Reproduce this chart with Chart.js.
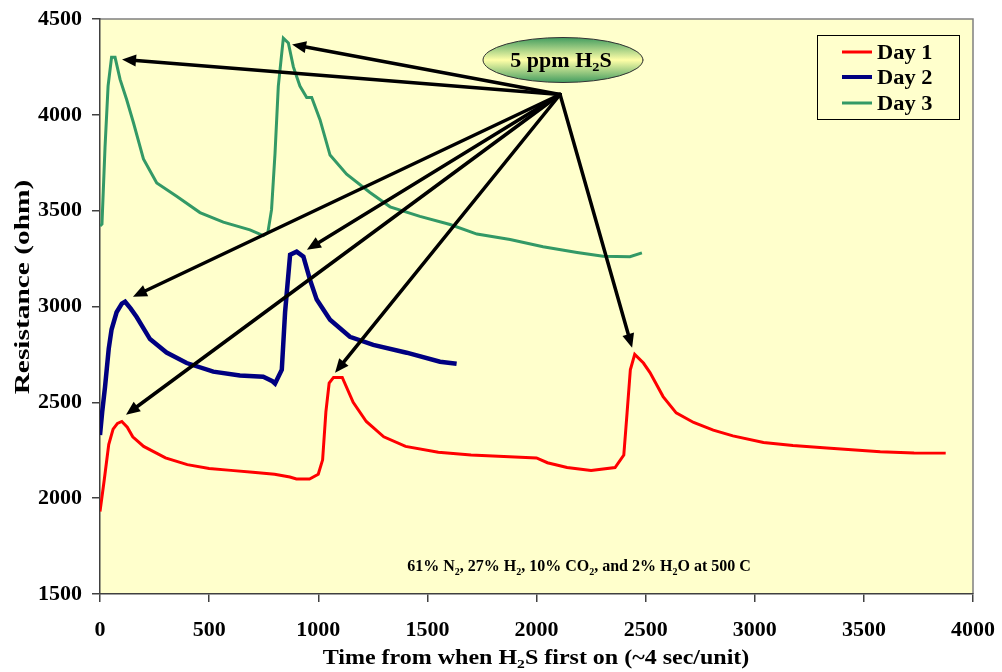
<!DOCTYPE html>
<html>
<head>
<meta charset="utf-8">
<script src="https://cdn.jsdelivr.net/npm/chart.js@4.4.1/dist/chart.umd.min.js"></script>
<style>
  body { margin: 0; background: #fff; }
  canvas { display: block; }
</style>
</head>
<body>
<canvas id="myChart" width="1002" height="672"></canvas>
<script>
// data
const day1Time = [0, 20, 40, 60, 80, 100, 125, 150, 200, 250, 300, 400, 500, 600, 700, 800, 870, 900, 960, 1000, 1020, 1035, 1050, 1070, 1110, 1160, 1220, 1300, 1400, 1550, 1700, 1800, 2000, 2050, 2140, 2250, 2360, 2400, 2415, 2430, 2450, 2490, 2520, 2580, 2640, 2720, 2810, 2900, 3040, 3175, 3330, 3575, 3730, 3875];
const day1Ohm = [1930, 2100, 2280, 2360, 2390, 2400, 2370, 2320, 2270, 2240, 2210, 2175, 2155, 2145, 2135, 2125, 2110, 2100, 2100, 2125, 2200, 2450, 2600, 2630, 2630, 2500, 2400, 2320, 2270, 2240, 2225, 2220, 2210, 2185, 2160, 2145, 2160, 2225, 2445, 2670, 2750, 2705, 2655, 2530, 2445, 2395, 2355, 2325, 2290, 2275, 2262, 2242, 2236, 2235];

const day2Time = [0, 10, 23, 40, 53, 76, 100, 115, 140, 168, 229, 305, 397, 519, 641, 748, 790, 802, 833, 848, 871, 901, 932, 962, 993, 1054, 1145, 1252, 1405, 1558, 1634];
const day2Ohm = [2330, 2450, 2580, 2780, 2880, 2970, 3015, 3025, 2990, 2945, 2830, 2760, 2705, 2660, 2640, 2633, 2610, 2598, 2670, 2970, 3270, 3286, 3260, 3140, 3036, 2931, 2842, 2800, 2759, 2712, 2701];

const day3Time = [0, 9, 23, 37, 53, 69, 92, 122, 153, 199, 260, 351, 458, 565, 687, 748, 769, 786, 802, 817, 840, 863, 886, 916, 947, 970, 1008, 1054, 1130, 1237, 1329, 1466, 1604, 1727, 1879, 2030, 2186, 2305, 2428, 2483];
const day3Ohm = [3420, 3430, 3830, 4150, 4300, 4300, 4185, 4080, 3960, 3770, 3645, 3575, 3490, 3440, 3400, 3370, 3385, 3505, 3800, 4150, 4400, 4375, 4250, 4150, 4090, 4090, 3975, 3790, 3690, 3595, 3520, 3470, 3428, 3378, 3350, 3312, 3282, 3262, 3260, 3280];

// arrows from the "5 ppm H2S" bubble to each peak
const arrowFrom = [2108, 4106];
const arrowTime = [101, 880, 151, 948, 119, 1077, 2438];
const arrowOhm = [4289, 4367, 3051, 3296, 2435, 2654, 2785];

const seriesNames = ['Day 1', 'Day 2', 'Day 3'];
const seriesColors = ['#FF0000', '#000080', '#339966'];

const toPoints = (xs, ys) => xs.map((x, i) => ({ x: x, y: ys[i] }));

const serif = '"Liberation Serif", "Times New Roman", serif';

// text with subscripts: parts = [[text, isSub], ...]
function drawRich(ctx, parts, cx, cy, size, sx) {
  ctx.save();
  ctx.translate(cx, cy);
  ctx.scale(sx, 1);
  ctx.fillStyle = '#000';
  ctx.textBaseline = 'alphabetic';
  ctx.textAlign = 'left';
  let total = 0;
  parts.forEach(p => {
    ctx.font = 'bold ' + (p[1] ? Math.round(size * 0.65) : size) + 'px ' + serif;
    total += ctx.measureText(p[0]).width;
  });
  let x = -total / 2;
  parts.forEach(p => {
    ctx.font = 'bold ' + (p[1] ? Math.round(size * 0.65) : size) + 'px ' + serif;
    ctx.fillText(p[0], x, p[1] ? size * 0.22 : 0);
    x += ctx.measureText(p[0]).width;
  });
  ctx.restore();
}

function drawArrow(ctx, x0, y0, x1, y1) {
  const a = Math.atan2(y1 - y0, x1 - x0);
  const len = 14, half = 6;
  const bx = x1 - len * Math.cos(a), by = y1 - len * Math.sin(a);
  ctx.beginPath();
  ctx.moveTo(x0, y0);
  ctx.lineTo(bx, by);
  ctx.stroke();
  ctx.beginPath();
  ctx.moveTo(x1, y1);
  ctx.lineTo(bx + half * Math.sin(a), by - half * Math.cos(a));
  ctx.lineTo(bx - half * Math.sin(a), by + half * Math.cos(a));
  ctx.closePath();
  ctx.fill();
}

const decor = {
  id: 'decor',
  beforeDraw(chart) {
    const { ctx, chartArea: ca } = chart;
    ctx.save();
    ctx.fillStyle = '#fff';
    ctx.fillRect(0, 0, chart.width, chart.height);
    ctx.fillStyle = '#FFFFCC';
    ctx.fillRect(ca.left, ca.top, ca.right - ca.left, ca.bottom - ca.top);
    ctx.strokeStyle = '#808080';
    ctx.lineWidth = 1.5;
    ctx.beginPath();
    ctx.moveTo(ca.left, ca.top);
    ctx.lineTo(ca.right, ca.top);
    ctx.lineTo(ca.right, ca.bottom);
    ctx.stroke();
    ctx.restore();
  },
  afterDatasetsDraw(chart) {
    const { ctx } = chart;
    const xs = chart.scales.x, ys = chart.scales.y;
    ctx.save();

    // arrows
    const ox = xs.getPixelForValue(arrowFrom[0]);
    const oy = ys.getPixelForValue(arrowFrom[1]);
    ctx.strokeStyle = '#000';
    ctx.fillStyle = '#000';
    ctx.lineWidth = 3.5;
    ctx.lineCap = 'round';
    arrowTime.forEach((t, i) => {
      drawArrow(ctx, ox, oy, xs.getPixelForValue(t), ys.getPixelForValue(arrowOhm[i]));
    });

    // bubble
    const ex = 563, ey = 60;
    const g = ctx.createLinearGradient(0, ey - 23, 0, ey + 23);
    g.addColorStop(0, '#3E9A5E');
    g.addColorStop(0.5, '#FFFFA8');
    g.addColorStop(1, '#3E9A5E');
    ctx.beginPath();
    ctx.ellipse(ex, ey, 80, 22.5, 0, 0, Math.PI * 2);
    ctx.fillStyle = g;
    ctx.fill();
    ctx.lineWidth = 1;
    ctx.strokeStyle = '#333';
    ctx.stroke();
    drawRich(ctx, [['5 ppm H', 0], ['2', 1], ['S', 0]], ex - 2, ey + 7, 20, 1.1);

    // gas note
    drawRich(ctx, [['61% N', 0], ['2', 1], [', 27% H', 0], ['2', 1], [', 10% CO', 0], ['2', 1], [', and 2% H', 0], ['2', 1], ['O at 500 C', 0]], 579, 571, 16, 1.0);

    // legend
    const lx = 817.5, ly = 35.5, lw = 142, lh = 84;
    ctx.fillStyle = '#FFFFCC';
    ctx.fillRect(lx, ly, lw, lh);
    ctx.strokeStyle = '#000';
    ctx.lineWidth = 1;
    ctx.strokeRect(lx, ly, lw, lh);
    const rows = [52, 77, 103];
    seriesNames.forEach((name, i) => {
      ctx.strokeStyle = seriesColors[i];
      ctx.lineWidth = i === 1 ? 4 : 3;
      ctx.lineCap = 'butt';
      ctx.beginPath();
      ctx.moveTo(842, rows[i]);
      ctx.lineTo(872, rows[i]);
      ctx.stroke();
      ctx.save();
      ctx.translate(877, rows[i] + 7);
      ctx.scale(1.12, 1);
      ctx.fillStyle = '#000';
      ctx.font = 'bold 20px ' + serif;
      ctx.textAlign = 'left';
      ctx.fillText(name, 0, 0);
      ctx.restore();
    });

    // axis titles
    drawRich(ctx, [['Time from when H', 0], ['2', 1], ['S first on (~4 sec/unit)', 0]], 536, 664, 20, 1.2);
    ctx.save();
    ctx.translate(29, 287);
    ctx.rotate(-Math.PI / 2);
    ctx.scale(1.4, 1);
    ctx.fillStyle = '#000';
    ctx.font = 'bold 21px ' + serif;
    ctx.textAlign = 'center';
    ctx.fillText('Resistance (ohm)', 0, 0);
    ctx.restore();

    ctx.restore();
  }
};

const tickFont = { family: serif, size: 22, weight: 'bold' };
const plainNumber = v => String(v);

new Chart(document.getElementById('myChart'), {
  type: 'scatter',
  data: {
    datasets: [
      { label: seriesNames[0], data: toPoints(day1Time, day1Ohm), borderColor: seriesColors[0], borderWidth: 3 },
      { label: seriesNames[1], data: toPoints(day2Time, day2Ohm), borderColor: seriesColors[1], borderWidth: 4.5 },
      { label: seriesNames[2], data: toPoints(day3Time, day3Ohm), borderColor: seriesColors[2], borderWidth: 3 }
    ].map(d => Object.assign(d, { showLine: true, pointRadius: 0, tension: 0, fill: false }))
  },
  options: {
    responsive: false,
    animation: false,
    devicePixelRatio: 1,
    layout: { padding: { top: 19, right: 29, left: 0, bottom: 0 } },
    plugins: { legend: { display: false }, tooltip: { enabled: false } },
    scales: {
      x: {
        type: 'linear', min: 0, max: 4000,
        ticks: { stepSize: 500, font: tickFont, color: '#000', padding: 15, maxRotation: 0, callback: plainNumber },
        grid: { drawOnChartArea: false, tickLength: 8, color: '#404040', lineWidth: 1.5 },
        border: { color: '#404040', width: 1.5 },
        afterFit: s => { s.height = 78; s.paddingLeft = 0; s.paddingRight = 0; }
      },
      y: {
        min: 1500, max: 4500,
        ticks: { stepSize: 500, font: tickFont, color: '#000', padding: 10, callback: plainNumber },
        grid: { drawOnChartArea: false, tickLength: 8, color: '#404040', lineWidth: 1.5 },
        border: { color: '#404040', width: 1.5 },
        afterFit: s => { s.width = 100; s.paddingTop = 0; s.paddingBottom = 0; }
      }
    }
  },
  plugins: [decor]
});
</script>
</body>
</html>
